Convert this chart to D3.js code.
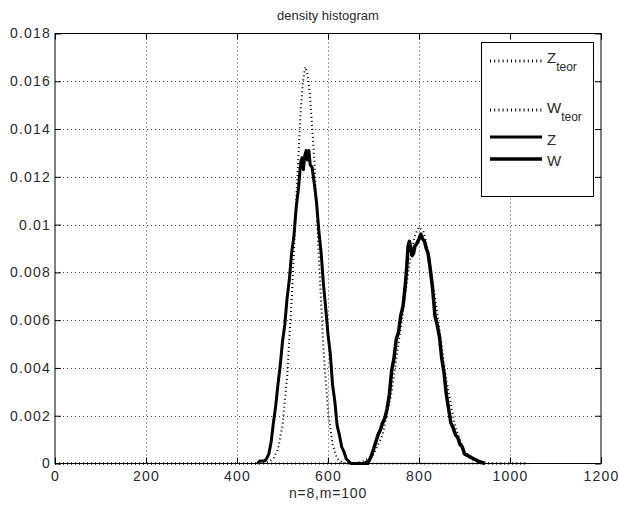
<!DOCTYPE html>
<html>
<head lang="en">
    <meta charset="UTF-8">
    <title> density histogram </title>
    <script type="text/javascript" src="https://cdn.jsdelivr.net/npm/d3@7"></script>
    <style>
        body { margin: 0; background: #fff; }
        text { font-family: "Liberation Sans", Arial, sans-serif; fill: #2a2a2a; }
    </style>
</head>
<body>
<div id="chart"></div>

<script>

    // ticks
    var xTicks      = [0, 200, 400, 600, 800, 1000, 1200];
    var xTickLabels = ["0", "200", "400", "600", "800", "1000", "1200"];
    var yTicks      = [0, 0.002, 0.004, 0.006, 0.008, 0.01, 0.012, 0.014, 0.016, 0.018];
    var yTickLabels = ["0", "0.002", "0.004", "0.006", "0.008", "0.01", "0.012", "0.014", "0.016", "0.018"];

    // Z_teor (dotted)
    var zTeorX = [0, 440, 460, 470, 480, 490, 500, 510, 520, 530, 540, 545, 550, 555, 560, 570, 580, 590, 600, 610, 620, 630, 640, 660, 1040];
    var zTeorY = [0, 0, 0.00002, 0.00008, 0.0002, 0.0006, 0.0016, 0.0036, 0.0068, 0.0109, 0.0148, 0.0160, 0.0166, 0.0163, 0.0155, 0.0127, 0.0086, 0.0048, 0.0022, 0.0008, 0.0002, 0.00005, 0, 0, 0];

    // W_teor (dotted)
    var wTeorX = [0, 660, 680, 700, 720, 740, 760, 780, 790, 800, 810, 820, 840, 860, 880, 900, 920, 940, 960, 1040];
    var wTeorY = [0, 0, 0.00011, 0.00038, 0.0012, 0.0030, 0.0057, 0.0085, 0.0095, 0.0099, 0.0097, 0.0089, 0.0063, 0.0035, 0.0015, 0.0005, 0.00013, 0.00003, 0, 0];

    // Z (histogram)
    var zX = [445, 450, 460, 465, 470, 475, 480, 485, 490, 495, 500, 505, 510, 515, 520, 525, 530, 535, 540, 543, 546, 549, 552, 555, 558, 561, 565, 570, 575, 580, 585, 590, 595, 600, 605, 610, 615, 620, 625, 630, 635, 640, 645, 650, 690];
    var zY = [0, 0.0001, 0.0001, 0.0002, 0.0004, 0.0009, 0.0017, 0.0024, 0.0033, 0.0041, 0.0051, 0.0058, 0.0069, 0.0077, 0.0088, 0.0095, 0.0107, 0.0115, 0.0126, 0.0128, 0.0123, 0.0129, 0.0131, 0.0127, 0.0131, 0.0125, 0.0124, 0.0117, 0.0109, 0.0097, 0.0088, 0.0075, 0.0065, 0.0054, 0.0046, 0.0033, 0.0026, 0.0016, 0.0012, 0.0007, 0.0005, 0.0002, 0.0001, 0, 0];

    // W (histogram)
    var wX = [680, 690, 695, 700, 705, 710, 715, 720, 725, 730, 735, 740, 745, 750, 755, 760, 765, 770, 773, 776, 779, 782, 785, 788, 791, 795, 800, 804, 808, 812, 816, 820, 825, 830, 835, 840, 845, 850, 855, 860, 865, 870, 875, 880, 885, 890, 895, 900, 910, 920, 930, 945];
    var wY = [0, 0.0001, 0.0003, 0.0006, 0.0009, 0.0012, 0.0014, 0.0017, 0.0019, 0.0023, 0.0029, 0.0039, 0.0044, 0.0052, 0.0055, 0.0062, 0.0066, 0.0075, 0.0082, 0.0091, 0.0093, 0.0090, 0.0087, 0.0088, 0.0091, 0.0092, 0.0094, 0.0096, 0.0094, 0.0093, 0.0090, 0.0088, 0.0081, 0.0073, 0.0062, 0.0058, 0.0053, 0.0044, 0.0038, 0.0029, 0.0023, 0.0017, 0.0015, 0.0012, 0.0011, 0.0008, 0.0007, 0.0004, 0.0003, 0.0002, 0.0001, 0];

    var width  = 620,
        height = 509;
    var margin = {left: 55, right: 19, top: 33.5, bottom: 45.5};

    var svg = d3.select("#chart").append("svg")
            .attr("width", width)
            .attr("height", height);

    var x = d3.scaleLinear().domain([0, 1200]).range([margin.left, width - margin.right]);
    var y = d3.scaleLinear().domain([0, 0.018]).range([height - margin.bottom, margin.top]);

    // grid
    svg.append("g").selectAll("line")
            .data(xTicks.slice(1, -1)).enter().append("line")
            .attr("x1", function (d) { return Math.round(x(d)) + 0.5; })
            .attr("x2", function (d) { return Math.round(x(d)) + 0.5; })
            .attr("y1", y(0)).attr("y2", y(0.018))
            .style("stroke", "#444").style("stroke-width", 1)
            .style("stroke-dasharray", "1,3");

    svg.append("g").selectAll("line")
            .data(yTicks.slice(1, -1)).enter().append("line")
            .attr("y1", function (d) { return Math.round(y(d)) + 0.5; })
            .attr("y2", function (d) { return Math.round(y(d)) + 0.5; })
            .attr("x1", x(0)).attr("x2", x(1200))
            .style("stroke", "#444").style("stroke-width", 1)
            .style("stroke-dasharray", "1,3");

    // axes, ticks inside on all four sides
    var bottomAxis = d3.axisBottom(x).tickValues(xTicks).tickSize(-6).tickFormat(function (d, i) { return xTickLabels[i]; });
    var topAxis    = d3.axisTop(x).tickValues(xTicks).tickSize(-6).tickFormat("");
    var leftAxis   = d3.axisLeft(y).tickValues(yTicks).tickSize(-6).tickFormat(function (d, i) { return yTickLabels[i]; });
    var rightAxis  = d3.axisRight(y).tickValues(yTicks).tickSize(-6).tickFormat("");

    function styleAxis(g) {
        g.select(".domain").remove();
        g.selectAll(".tick line").style("stroke", "#000");
        g.selectAll(".tick text")
                .style("font-size", "14px")
                .style("letter-spacing", "1.2px")
                .style("fill", "#2a2a2a");
    }

    svg.append("g").attr("transform", "translate(0," + y(0) + ")").call(bottomAxis).call(styleAxis)
            .selectAll(".tick text").attr("y", 8).attr("dy", "0.71em");
    svg.append("g").attr("transform", "translate(0," + y(0.018) + ")").call(topAxis).call(styleAxis);
    svg.append("g").attr("transform", "translate(" + x(0) + ",0)").call(leftAxis).call(styleAxis)
            .selectAll(".tick text").attr("x", -4);
    svg.append("g").attr("transform", "translate(" + x(1200) + ",0)").call(rightAxis).call(styleAxis);

    // box
    svg.append("rect")
            .attr("x", x(0)).attr("y", y(0.018))
            .attr("width", x(1200) - x(0)).attr("height", y(0) - y(0.018))
            .style("fill", "none").style("stroke", "#000").style("stroke-width", 1);

    // curves
    var line = d3.line()
            .x(function (d) { return x(d[0]); })
            .y(function (d) { return y(d[1]); });

    var series = [
        {name: "Zteor", xs: zTeorX, ys: zTeorY, w: 2, dash: "1,3"},
        {name: "Wteor", xs: wTeorX, ys: wTeorY, w: 2, dash: "1,3"},
        {name: "Z",     xs: zX,     ys: zY,     w: 3, dash: null},
        {name: "W",     xs: wX,     ys: wY,     w: 3.5, dash: null}
    ];

    svg.append("g").selectAll("path")
            .data(series).enter().append("path")
            .attr("d", function (d) { return line(d.xs.map(function (v, i) { return [v, d.ys[i]]; })); })
            .style("fill", "none")
            .style("stroke", "#000")
            .style("stroke-width", function (d) { return d.w; })
            .style("stroke-dasharray", function (d) { return d.dash; })
            .style("stroke-linejoin", "round");

    // title and label
    svg.append("text")
            .attr("x", (x(0) + x(1200)) / 2).attr("y", 20)
            .attr("text-anchor", "middle")
            .style("font-size", "13px")
            .text("density histogram");

    svg.append("text")
            .attr("x", (x(0) + x(1200)) / 2).attr("y", 498)
            .attr("text-anchor", "middle")
            .style("font-size", "14px")
            .style("letter-spacing", "0.8px")
            .text("n=8,m=100");

    // legend
    var legend = svg.append("g");
    legend.append("rect")
            .attr("x", 481.5).attr("y", 42.5).attr("width", 112).attr("height", 154)
            .style("fill", "#fff").style("stroke", "#000").style("stroke-width", 1);

    var legendItems = [
        {s: series[0], label: "Z", sub: "teor", ly: 61,  ty: 63},
        {s: series[1], label: "W", sub: "teor", ly: 110, ty: 113},
        {s: series[2], label: "Z", sub: "",     ly: 137, ty: 145},
        {s: series[3], label: "W", sub: "",     ly: 159, ty: 166}
    ];

    legendItems.forEach(function (d) {
        legend.append("line")
                .attr("x1", 490).attr("x2", 542)
                .attr("y1", d.ly).attr("y2", d.ly)
                .style("stroke", "#000")
                .style("stroke-width", d.s.dash ? 3 : d.s.w)
                .style("stroke-dasharray", d.s.dash ? "1,3.2" : null);
        var t = legend.append("text")
                .attr("x", 547).attr("y", d.ty)
                .style("font-size", "15px");
        t.append("tspan").text(d.label);
        if (d.sub) {
            t.append("tspan").attr("dy", 8).style("font-size", "12px").text(d.sub);
        }
    });

</script>
</body>
</html>
